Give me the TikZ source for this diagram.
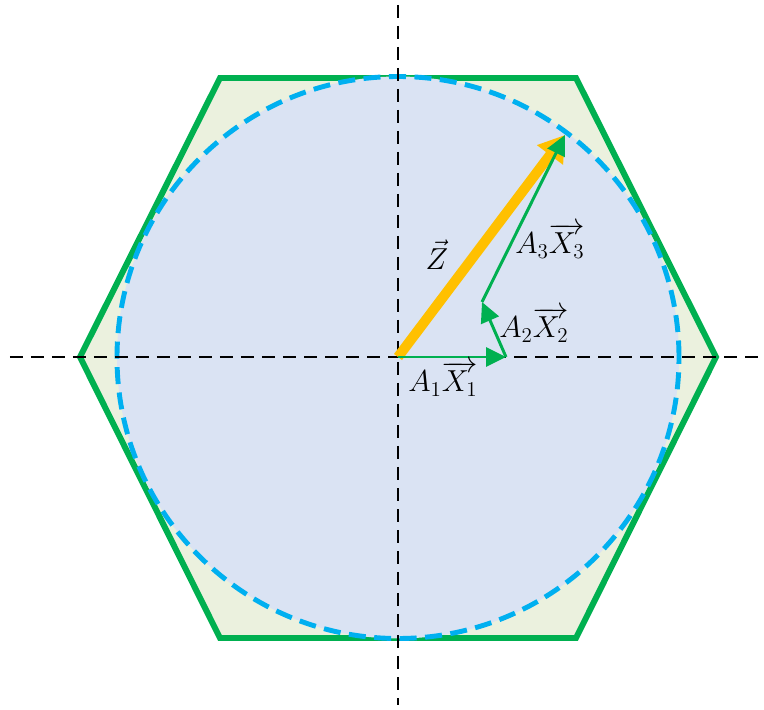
\documentclass[tikz,border=0pt]{standalone}
\usetikzlibrary{arrows.meta}
\definecolor{verde}{RGB}{0,176,80}
\definecolor{azzurro}{RGB}{0,176,240}
\definecolor{arancio}{RGB}{255,192,0}
\definecolor{fondoesa}{RGB}{235,241,222}
\definecolor{fondocerchio}{RGB}{218,227,243}
\begin{document}
\begin{tikzpicture}[
    asse/.style={black, line width=1.7pt, dash pattern=on 0.26cm off 0.16cm},
    vett/.style={verde, line width=1.7pt, -{Triangle[length=0.4cm,width=0.38cm]}},
    etichetta/.style={font=\LARGE, inner sep=1pt}
    ]
        \useasboundingbox (-7.96,-7.04) rectangle (7.32,7.14);
        %esagono
        \draw[verde, line width=3.4pt, fill=fondoesa, line join=miter] (6.36,0) -- (3.56,5.58) -- (-3.56,5.58) -- (-6.36,0) -- (-3.56,-5.62) -- (3.56,-5.62) -- cycle;
        %cerchio
        \draw[azzurro, line width=2.8pt, fill=fondocerchio, dash pattern=on 0.34cm off 0.17cm] (0,-0.01) circle (5.62);
        %assi
        \draw[asse] (-7.76,0) -- (7.24,0);
        \draw[asse] (0,7.04) -- (0,-6.96);
        %vettori
        \coordinate (O) at (0,0);
        \coordinate (P1) at (2.16,0);
        \coordinate (P2) at (1.68,1.1);
        \coordinate (P3) at (3.34,4.44);
        \draw[arancio, line width=5.7pt, -{Triangle[length=0.5cm,width=0.62cm]}] (O) -- (P3);
        \draw[vett] (O) -- (P1);
        \draw[vett] (P1) -- (P2);
        \draw[vett] (P2) -- (P3);
        \node[etichetta] (z) at (0.78,2.04) {$\vec{Z}$};
        \node[etichetta] (a1) at (0.9,-0.44) {$A_1\overrightarrow{X_1}$};
        \node[etichetta] (a2) at (2.72,0.64) {$A_2\overrightarrow{X_2}$};
        \node[etichetta] (a3) at (3.04,2.32) {$A_3\overrightarrow{X_3}$};
    \end{tikzpicture}
\end{document}
